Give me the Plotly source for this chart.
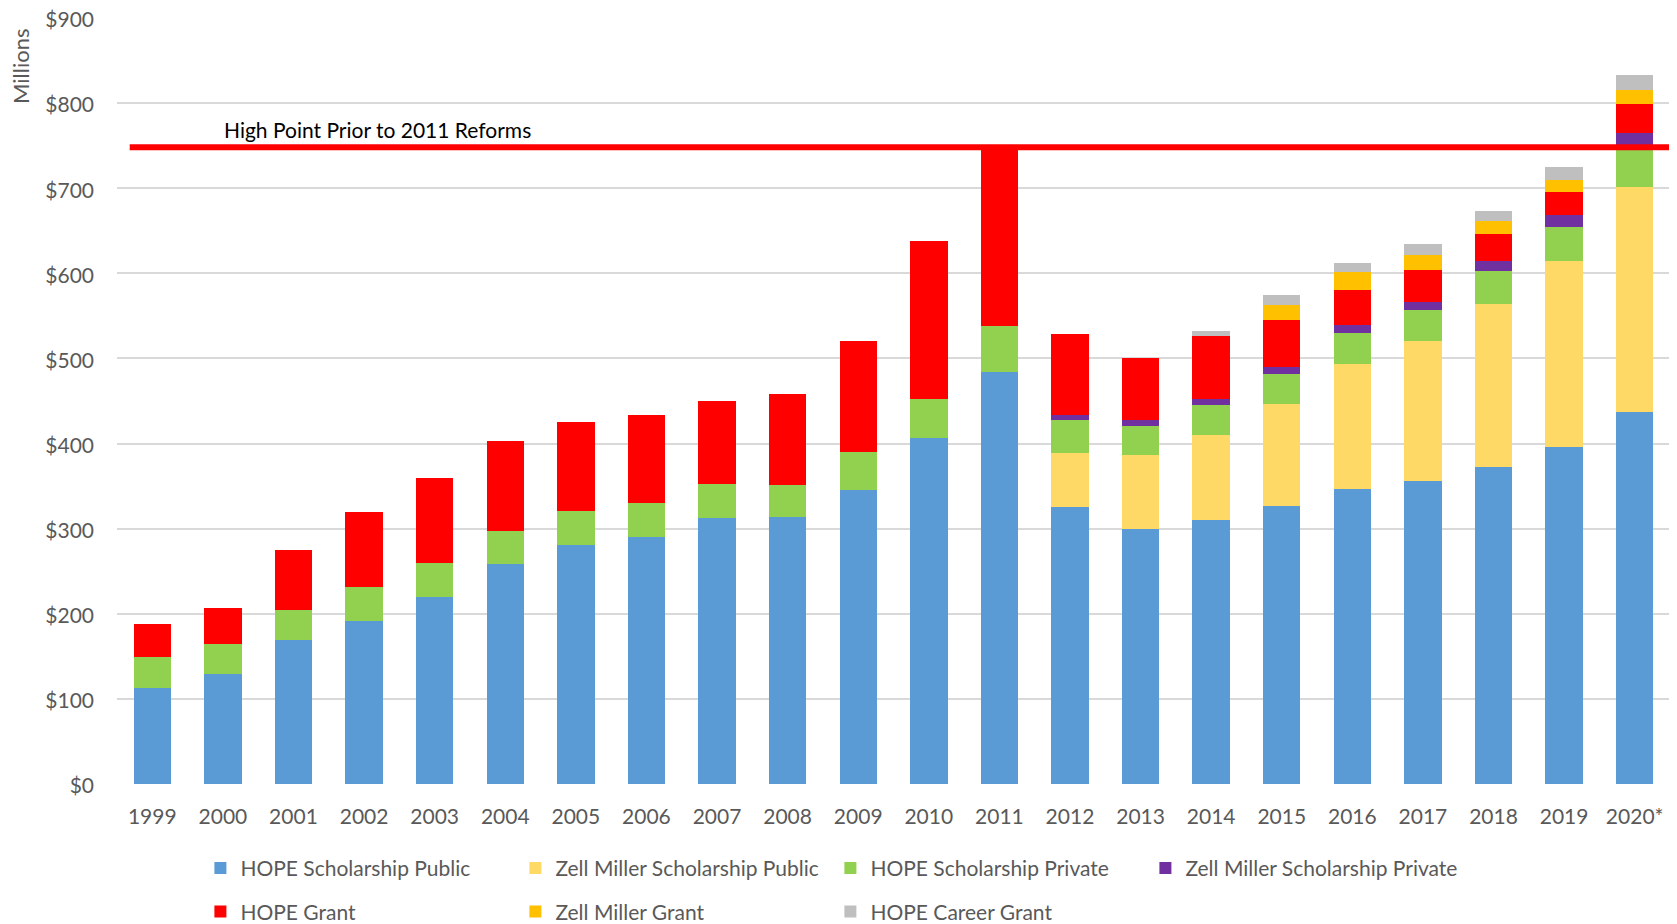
import plotly.graph_objects as go

years = ["1999", "2000", "2001", "2002", "2003", "2004", "2005", "2006", "2007", "2008",
         "2009", "2010", "2011", "2012", "2013", "2014", "2015", "2016", "2017", "2018",
         "2019", "2020*"]

hope_sch_public = [113, 129, 169, 192, 220, 259, 281, 290, 313, 314, 346, 406, 484,
                   325, 300, 310, 327, 347, 356, 373, 396, 437]
zell_sch_public = [0, 0, 0, 0, 0, 0, 0, 0, 0, 0, 0, 0, 0,
                   64, 86, 100, 119, 146, 164, 191, 218, 265]
hope_sch_private = [36, 35, 36, 39, 40, 38, 40, 40, 39, 37, 44, 46, 54,
                    39, 35, 35, 36, 37, 37, 39, 41, 49]
zell_sch_private = [0, 0, 0, 0, 0, 0, 0, 0, 0, 0, 0, 0, 0,
                    5, 7, 7, 8, 9, 9, 11, 13, 14]
hope_grant = [39, 43, 70, 89, 100, 106, 104, 104, 98, 107, 131, 186, 210,
              96, 73, 74, 55, 42, 38, 32, 28, 34]
zell_grant = [0, 0, 0, 0, 0, 0, 0, 0, 0, 0, 0, 0, 0,
              0, 0, 0, 18, 20, 17, 15, 14, 16]
hope_career = [0, 0, 0, 0, 0, 0, 0, 0, 0, 0, 0, 0, 0,
               0, 0, 6, 11, 11, 13, 12, 15, 18]

high_point = 748
high_point_label = "High Point Prior to 2011 Reforms"

series = [
    ("HOPE Scholarship Public", hope_sch_public, "#5B9BD5", "legend"),
    ("Zell Miller Scholarship Public", zell_sch_public, "#FFD966", "legend"),
    ("HOPE Scholarship Private", hope_sch_private, "#92D050", "legend"),
    ("Zell Miller Scholarship Private", zell_sch_private, "#7030A0", "legend"),
    ("HOPE Grant", hope_grant, "#FF0000", "legend2"),
    ("Zell Miller Grant", zell_grant, "#FFC000", "legend2"),
    ("HOPE Career Grant", hope_career, "#BFBFBF", "legend2"),
]

FONT = "Lato"
GRAY = "#595959"

fig = go.Figure()
for name, vals, color, leg in series:
    fig.add_trace(go.Bar(x=years, y=vals, name=name, marker=dict(color=color, line=dict(width=0)),
                         legend=leg))

fig.add_shape(type="line", xref="x", yref="y", x0=-0.32, x1=22, y0=high_point, y1=high_point,
              line=dict(color="#FF0000", width=6), layer="above")

fig.add_annotation(x=-0.32, y=high_point, xref="x", yref="y", text=high_point_label,
                   showarrow=False, xanchor="left", yanchor="bottom", xshift=92, yshift=3,
                   font=dict(family=FONT, size=21, color="black"))

fig.add_annotation(x=0, y=1, xref="paper", yref="paper", text="Millions", textangle=-90,
                   showarrow=False, xanchor="center", yanchor="middle", xshift=-97, yshift=-49,
                   font=dict(family=FONT, size=22, color=GRAY))

legend_common = dict(orientation="h", xanchor="left", yanchor="middle",
                     entrywidth=270, entrywidthmode="pixels",
                     font=dict(family=FONT, size=21, color=GRAY),
                     bgcolor="rgba(0,0,0,0)", traceorder="normal")

fig.update_layout(
    width=1677, height=924,
    barmode="stack", bargap=0.47,
    plot_bgcolor="white", paper_bgcolor="white",
    margin=dict(l=109, r=15, t=10, b=148, autoexpand=False),
    font=dict(family=FONT, size=21, color=GRAY),
    legend=dict(x=0.0537, y=-0.11, **legend_common),
    legend2=dict(x=0.0537, y=-0.167, **legend_common),
    xaxis=dict(showgrid=False, showline=False, ticks="", tickfont=dict(family=FONT, size=21, color=GRAY),
               ticklabelstandoff=18, range=[-0.5, 21.5], automargin=False),
    yaxis=dict(range=[0, 900], dtick=100, tickprefix="$", showgrid=True, gridcolor="#D9D9D9",
               gridwidth=1.5, zeroline=False, showline=False, ticks="", automargin=False,
               ticklabeloverflow="allow", ticklabelshift=2,
               tickfont=dict(family=FONT, size=21, color=GRAY), ticklabelstandoff=22),
)

fig.write_html("out.html")
